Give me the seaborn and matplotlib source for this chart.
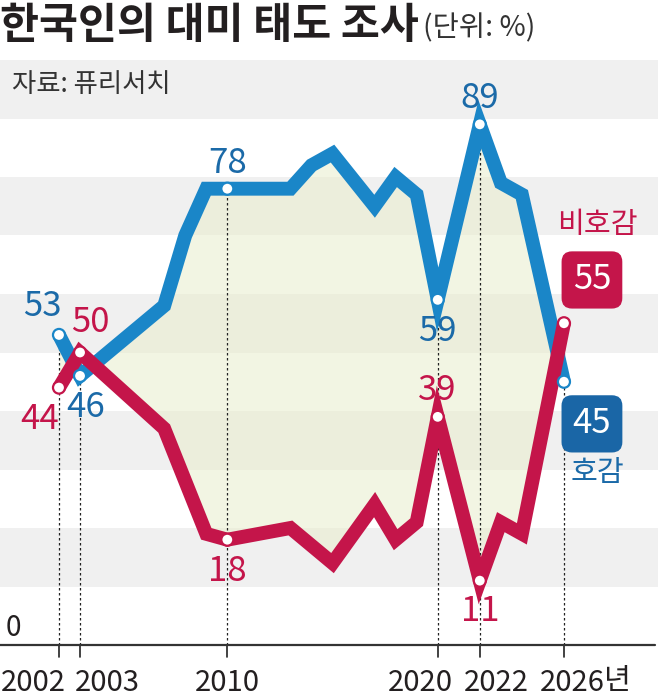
import matplotlib
matplotlib.use("Agg")
import matplotlib.pyplot as plt
import seaborn as sns

# data (Pew Research, %)
years = [2002, 2003, 2007, 2008, 2009, 2010, 2013, 2014, 2015, 2017, 2018, 2019, 2020, 2022, 2023, 2024, 2026]
favorable = [53, 46, 58, 70, 78, 78, 78, 82, 84, 75, 80, 77, 59, 89, 79, 77, 45]
unfavorable = [44, 50, 37, 28, 19, 18, 20, 17, 14, 24, 18, 21, 39, 11, 21, 19, 55]

tick_years = [2002, 2003, 2010, 2020, 2022, 2026]
tick_labels = ["2002", "2003", "2010", "2020", "2022", "2026"]

BLUE = "#1a86c8"
BLUE_TXT = "#1b6aa8"
RED = "#c4154a"
DARK = "#231f20"

sns.set_theme(style="white")
plt.rcParams["font.family"] = ["Noto Sans CJK KR", "DejaVu Sans"]

fig = plt.figure(figsize=(6.58, 6.99), dpi=100)
ax = fig.add_axes([0, 1 - 645 / 699, 1, (645 - 60) / 699])
ax.set_xlim(2002 - 59 / 21.04, 2002 + (658 - 59) / 21.04)
ax.set_ylim(0, 100)
ax.axis("off")

# alternating background bands
for lo in range(10, 100, 20):
    ax.axhspan(lo, lo + 10, color="#f0f0f0", zorder=0, lw=0)

ax.fill_between(years, favorable, unfavorable, color="#e9edcc", alpha=0.55, lw=0, zorder=1)

sns.lineplot(x=years, y=favorable, color=BLUE, linewidth=10, ax=ax, zorder=3,
             solid_joinstyle="miter", solid_capstyle="butt")
sns.lineplot(x=years, y=unfavorable, color=RED, linewidth=10, ax=ax, zorder=4,
             solid_joinstyle="miter", solid_capstyle="butt")

# axis line, dashed guides, ticks and dots
ax.axhline(0, color="#333333", lw=1.6, xmax=0.995, zorder=5, clip_on=False)
for yr in tick_years:
    i = years.index(yr)
    top = max(favorable[i], unfavorable[i])
    ax.plot([yr, yr], [0, top], color="#222222", lw=0.9, ls=(0, (2, 2)), zorder=2)
    ax.plot([yr, yr], [0, -2], color="#222222", lw=1.2, clip_on=False)
    ax.scatter([yr, yr], [favorable[i], unfavorable[i]], s=75, facecolor="white",
               edgecolor=[BLUE, RED], linewidth=1.6, zorder=6)

# year labels, shifted off the tick where they would collide
label_shift = {2002: -26, 2003: 27, 2010: 0, 2020: -17, 2022: 17, 2026: 8}
for yr, lab in zip(tick_years, tick_labels):
    ax.annotate(lab, (yr, 0), xytext=(label_shift[yr], -38), textcoords="offset pixels",
                fontsize=21, color=DARK, ha="center", va="center", annotation_clip=False)
ax.annotate("년", (2026, 0), xytext=(40, -36), textcoords="offset pixels",
            fontsize=21, color=DARK, ha="left", va="center", annotation_clip=False)

ax.text(0.008, 0.029, "0", transform=ax.transAxes, fontsize=20,
        color=DARK, ha="left", va="center")

# value labels: (year, series, colour, dx px, dy px)
labels = [
    (2002, favorable, BLUE_TXT, -17, 28),
    (2002, unfavorable, RED, -19, -32),
    (2003, unfavorable, RED, 10, 30),
    (2003, favorable, BLUE_TXT, 6, -32),
    (2010, favorable, BLUE_TXT, 0, 25),
    (2010, unfavorable, RED, 0, -32),
    (2020, favorable, BLUE_TXT, 0, -32),
    (2020, unfavorable, RED, 0, 26),
    (2022, favorable, BLUE_TXT, 0, 26),
    (2022, unfavorable, RED, 0, -31),
]
for yr, series, col, dx, dy in labels:
    v = series[years.index(yr)]
    ax.annotate(str(v), (yr, v), xytext=(dx, dy), textcoords="offset pixels",
                fontsize=25, color=col, ha="center", va="center", zorder=7)

# end-of-series boxes
ax.text(2027.33, 62.4, str(unfavorable[-1]), fontsize=25, color="white",
        ha="center", va="center", zorder=7,
        bbox=dict(boxstyle="round,pad=0.32,rounding_size=0.3", fc=RED, ec="none"))
ax.text(2027.33, 37.8, str(favorable[-1]), fontsize=25, color="white",
        ha="center", va="center", zorder=7,
        bbox=dict(boxstyle="round,pad=0.32,rounding_size=0.3", fc="#1a66a6", ec="none"))
ax.text(2027.6, 71.8, "비호감", fontsize=21, fontweight="medium", color=RED,
        ha="center", va="center")
ax.text(2027.6, 29.4, "호감", fontsize=21, fontweight="medium", color=BLUE_TXT,
        ha="center", va="center")

# title and source
fig.text(0.0, 1 - 26 / 699, "한국인의 대미 태도 조사", fontsize=30.5, fontweight="bold",
         color=DARK, ha="left", va="center")
fig.text(423 / 658, 1 - 28 / 699, "(단위: %)", fontsize=20.5, color="#333333",
         ha="left", va="center")
fig.text(12 / 658, 1 - 84 / 699, "자료: 퓨리서치", fontsize=19, color="#333333",
         ha="left", va="center")

fig.savefig("out.png", dpi=100)
